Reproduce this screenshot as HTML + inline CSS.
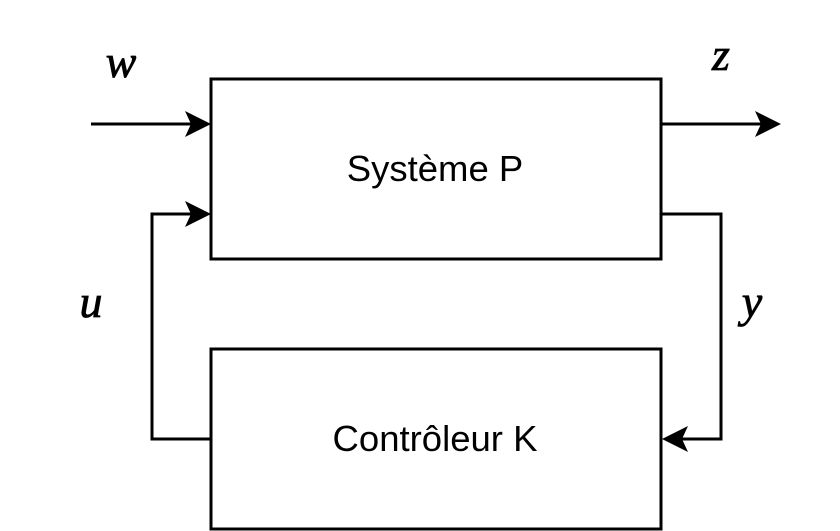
<!DOCTYPE html>
<html><head><meta charset="utf-8"><style>
html,body{margin:0;padding:0;background:#fff;width:840px;height:531px;overflow:hidden}
svg{display:block}
</style></head><body>
<svg width="840" height="531" viewBox="0 0 840 531" xmlns="http://www.w3.org/2000/svg">
<g fill="none" stroke="#000" stroke-width="3">
<rect x="211" y="79" width="450" height="180"/>
<rect x="211" y="349" width="450" height="180"/>
<path d="M91 124 H200"/>
<path d="M661 124 H770"/>
<path d="M211 439 H152 V214 H200"/>
<path d="M661 214 H721 V439 H673"/>
</g>
<g fill="#000">
<path d="M211 124 L185 111 L191 124 L185 137 Z"/>
<path d="M781 124 L755 111 L761 124 L755 137 Z"/>
<path d="M211 214 L185 201 L191 214 L185 227 Z"/>
<path d="M662 439 L688 426 L682 439 L688 452 Z"/>
</g>
<g font-family="Liberation Sans, sans-serif" font-size="36.5" text-anchor="middle" fill="#000">
<text x="435" y="181">Système P</text>
<text x="435" y="451">Contrôleur K</text>
</g>
<g font-family="Liberation Serif, serif" font-style="italic" font-size="46" text-anchor="middle" fill="#000" stroke="#000" stroke-width="0.8">
<text x="121" y="77">w</text>
<text x="721" y="70">z</text>
<text x="91" y="317">u</text>
<text x="752" y="317">y</text>
</g>
</svg>
</body></html>
